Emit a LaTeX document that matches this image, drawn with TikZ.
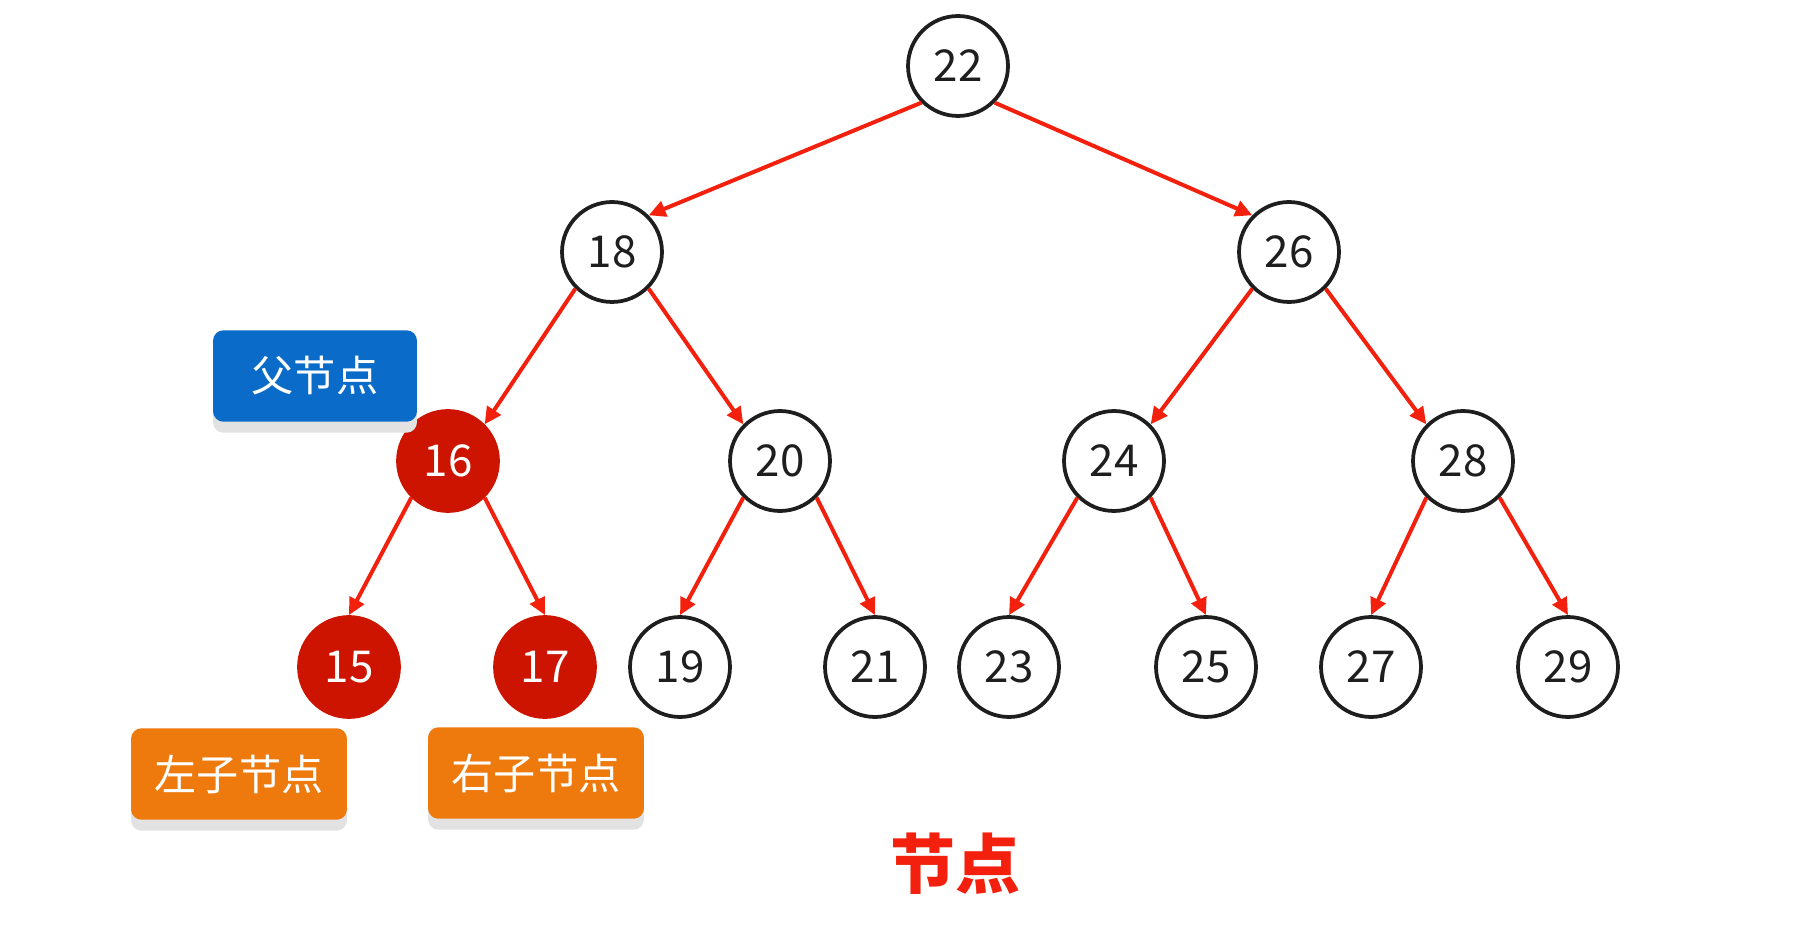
\documentclass[tikz,border=0pt]{standalone}
\usepackage{fontspec}
\setmainfont{Noto Sans CJK SC}
\usepackage{tikz}
\usetikzlibrary{arrows.meta, shadows}
\definecolor{myred}{RGB}{242,32,12}
\definecolor{mydark}{RGB}{30,30,30}
\definecolor{hotred}{RGB}{204,20,0}
\definecolor{myblue}{RGB}{10,108,200}
\definecolor{myorange}{RGB}{238,122,14}
\definecolor{shadowgray}{RGB}{226,226,226}
\tikzset{
  keynode/.style={circle, draw=mydark, fill=white, text=mydark,
    minimum size=2cm, inner sep=0pt, line width=0.075cm,
    font=\fontsize{25}{25}\selectfont},
  hotnode/.style={keynode, draw=hotred, fill=hotred, text=white},
  tagbox/.style={rectangle, rounded corners=6pt, text=white,
    minimum height=1.83cm, align=center, inner sep=0pt,
    font=\fontsize{24}{24}\selectfont,
    drop shadow={shadow xshift=0pt, shadow yshift=-0.22cm,
      fill=shadowgray, opacity=1}},
  bluetag/.style={tagbox, fill=myblue, minimum width=4.08cm},
  orangetag/.style={tagbox, fill=myorange, minimum width=4.32cm},
  edge/.style={-{Triangle[length=0.34cm, width=0.32cm]},
    line width=0.08cm, color=myred}
}

\begin{document}
\begin{tikzpicture}[x=0.02cm, y=-0.02cm]
  \useasboundingbox (0,0) rectangle (1806,925);
  % tree
  \node[keynode] (n22) at (958,66) {22};
  \node[keynode] (n18) at (612,252) {18};
  \node[keynode] (n26) at (1289,252) {26};
  \node[hotnode] (n16) at (448,461) {16};
  \node[keynode] (n20) at (780,461) {20};
  \node[keynode] (n24) at (1114,461) {24};
  \node[keynode] (n28) at (1463,461) {28};
  \node[hotnode] (n15) at (349,667) {15};
  \node[hotnode] (n17) at (545,667) {17};
  \node[keynode] (n19) at (680,667) {19};
  \node[keynode] (n21) at (875,667) {21};
  \node[keynode] (n23) at (1009,667) {23};
  \node[keynode] (n25) at (1206,667) {25};
  \node[keynode] (n27) at (1371,667) {27};
  \node[keynode] (n29) at (1568,667) {29};
  \foreach \a/\b in {22/18,18/16,26/24} {
    \draw[edge] (n\a.south west) -- (n\b.north east);
  }
  \foreach \a/\b in {22/26,18/20,26/28} {
    \draw[edge] (n\a.south east) -- (n\b.north west);
  }
  \foreach \a/\b/\c in {16/15/south west,16/17/south east,20/19/south west,
                        20/21/south east,24/23/south west,24/25/south east,
                        28/27/south west,28/29/south east} {
    \draw[edge] (n\a.\c) -- (n\b.north);
  }
  % tags
  \node[bluetag] (parent) at (315,376) {父节点};
  \node[orangetag] (leftchild) at (239,774) {左子节点};
  \node[orangetag] (rightchild) at (536,773) {右子节点};
  \node[text=myred, font=\fontsize{37}{37}\selectfont\bfseries] (title) at (955,864) {节点};
\end{tikzpicture}
\end{document}
